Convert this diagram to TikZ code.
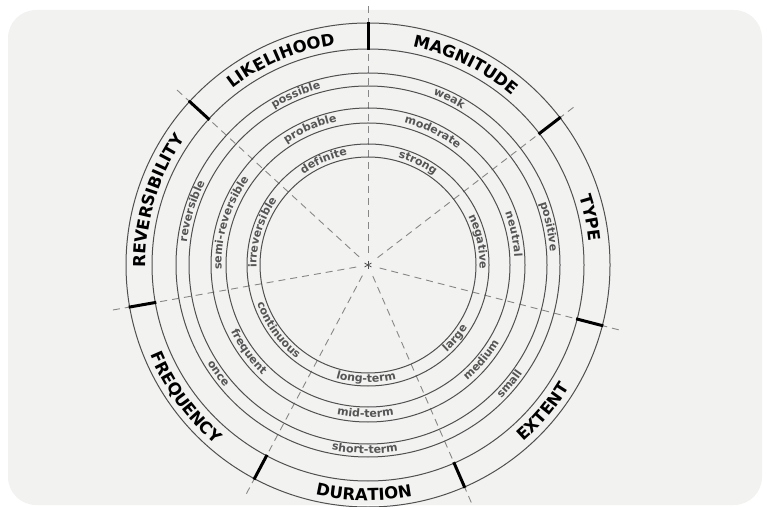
\documentclass[tikz,border=0pt]{standalone}
\usepackage{fontspec}
\usepackage{tikz}
\usetikzlibrary{decorations.text,calc}
\newfontfamily\capsfam[LetterSpace=2]{DejaVu Sans}
\newfontfamily\ringfam[LetterSpace=3]{DejaVu Sans}
\newcommand{\capsfont}{\fontsize{16.5pt}{20pt}\selectfont\capsfam\bfseries}
\newcommand{\ringfont}{\fontsize{11pt}{13pt}\selectfont\ringfam}
\definecolor{bggray}{RGB}{242,242,241}
\definecolor{linegray}{RGB}{80,80,80}
\definecolor{dashgray}{RGB}{135,135,135}
\definecolor{labelgray}{RGB}{85,85,85}
\newcommand{\cwlabel}[4]{%
  \path[decorate,decoration={text along path,text align=center,text color=#4,text/.expanded={#3}}]
    (#1+50:#2) arc[start angle=#1+50,end angle=#1-50,radius=#2];}
\newcommand{\ccwlabel}[4]{%
  \path[decorate,decoration={text along path,text align=center,text color=#4,text/.expanded={#3}}]
    (#1-50:#2) arc[start angle=#1-50,end angle=#1+50,radius=#2];}

\begin{document}
\begin{tikzpicture}[x=1pt,y=1pt,
    ring/.style={draw=linegray,line width=1pt},
    spoke/.style={draw=dashgray,line width=0.9pt,dash pattern=on 7pt off 5pt},
    divider/.style={draw=black,line width=3pt}]
  \useasboundingbox (0,0) rectangle (770,506);
  \fill[bggray,rounded corners=28pt] (8,1) rectangle (762,496);
  \coordinate (hub) at (368,241);
  \begin{scope}[shift={(hub)}]
    \foreach \ang in {90,37.5,-14.5,-66.5,-118,-170,137.5}
      \draw[spoke] (\ang:12pt) -- (\ang:262pt);
    \foreach \r in {108,121,142,157,179,192,216,242}
      \draw[ring] (0,0) circle[radius=\r pt];
    \foreach \ang in {90,37.5,-14.5,-66.5,-118,-170,137.5}
      \draw[divider] (\ang:215pt) -- (\ang:243pt);
    \foreach \ang/\head/\ta/\tb/\tc in {163/REVERSIBILITY/reversible/semi-reversible/irreversible,
        113/LIKELIHOOD/possible/probable/definite,
        64/MAGNITUDE/weak/moderate/strong,
        12/TYPE/positive/neutral/negative}
    {
      \capsfont\cwlabel{\ang}{222.5pt}{\head}{black}
      \ringfont\cwlabel{\ang}{182.5pt}{\ta}{labelgray}
      \ringfont\cwlabel{\ang}{146.5pt}{\tb}{labelgray}
      \ringfont\cwlabel{\ang}{111.5pt}{\tc}{labelgray}
    }
    \foreach \ang/\head/\ta/\tb/\tc in {-40/EXTENT/small/medium/large,
        -91/DURATION/short-term/mid-term/long-term,
        -144/FREQUENCY/once/frequent/continuous}
    {
      \capsfont\ccwlabel{\ang}{235.5pt}{\head}{black}
      \ringfont\ccwlabel{\ang}{188.5pt}{\ta}{labelgray}
      \ringfont\ccwlabel{\ang}{152.5pt}{\tb}{labelgray}
      \ringfont\ccwlabel{\ang}{117.5pt}{\tc}{labelgray}
    }
    \foreach \a in {90,30,150}
      \draw[linegray,line width=0.8pt] (\a:4pt) -- (\a+180:4pt);
  \end{scope}
\end{tikzpicture}
\end{document}
